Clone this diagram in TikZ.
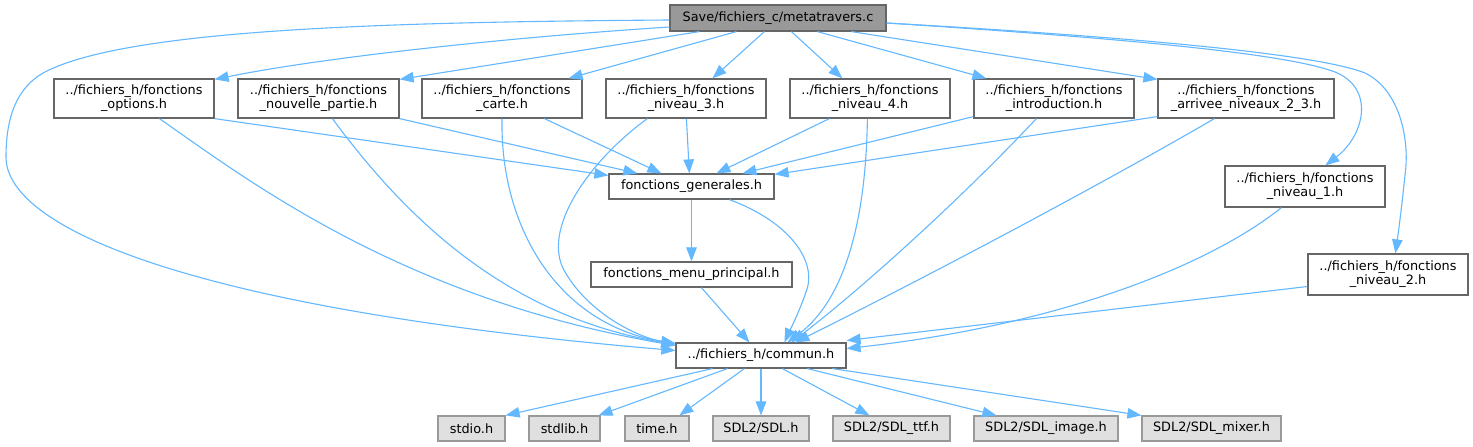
\documentclass[tikz,border=0pt]{standalone}
\usepackage{fontspec}
\setmainfont{DejaVu Sans}
\usetikzlibrary{arrows.meta,calc}
\definecolor{edgec}{HTML}{63B8FF}
\definecolor{bordc}{HTML}{666666}
\definecolor{bordl}{HTML}{999999}
\definecolor{fillmain}{HTML}{999999}
\definecolor{fillsys}{HTML}{E0E0E0}
\begin{document}
\begin{tikzpicture}[x=1pt,y=-1pt,
  font=\fontsize{12.85}{14}\selectfont,
  box/.style={draw=bordc, fill=white, line width=1.2pt, inner sep=0pt, align=center},
  mainbox/.style={box, fill=fillmain},
  sysbox/.style={box, draw=bordl, fill=fillsys},
  edge/.style={draw=edgec, line width=1.1pt, -{Triangle[length=14pt,width=10.5pt]}}]
\useasboundingbox (0,0) rectangle (1473,447);
\fill[white] (0,0) rectangle (1473,447);
% nodes
\node[mainbox, minimum width=216pt, minimum height=26pt] (main) at (778,18) {Save/fichiers\_c/metatravers.c};
\node[box, minimum width=160pt, minimum height=39pt] (opt) at (134,98.5) {../fichiers\_h/fonctions\\\_options.h};
\node[box, minimum width=161pt, minimum height=39pt] (nouv) at (318.5,98.5) {../fichiers\_h/fonctions\\\_nouvelle\_partie.h};
\node[box, minimum width=160pt, minimum height=39pt] (carte) at (502,98.5) {../fichiers\_h/fonctions\\\_carte.h};
\node[box, minimum width=160pt, minimum height=39pt] (n3) at (686,98.5) {../fichiers\_h/fonctions\\\_niveau\_3.h};
\node[box, minimum width=160pt, minimum height=39pt] (n4) at (870,98.5) {../fichiers\_h/fonctions\\\_niveau\_4.h};
\node[box, minimum width=160pt, minimum height=39pt] (intro) at (1054,98.5) {../fichiers\_h/fonctions\\\_introduction.h};
\node[box, minimum width=176pt, minimum height=39pt] (arr) at (1246,98.5) {../fichiers\_h/fonctions\\\_arrivee\_niveaux\_2\_3.h};
\node[box, minimum width=165pt, minimum height=25pt] (gen) at (691.5,186.5) {fonctions\_generales.h};
\node[box, minimum width=201pt, minimum height=25pt] (menu) at (691.5,274.5) {fonctions\_menu\_principal.h};
\node[box, minimum width=160pt, minimum height=41pt] (n1) at (1305,186.5) {../fichiers\_h/fonctions\\\_niveau\_1.h};
\node[box, minimum width=160pt, minimum height=41pt] (n2) at (1388,274.5) {../fichiers\_h/fonctions\\\_niveau\_2.h};
\node[box, minimum width=170pt, minimum height=25pt] (commun) at (761,355.5) {../fichiers\_h/commun.h};
\node[sysbox, minimum width=67pt, minimum height=25pt] (stdio) at (471.5,428.5) {stdio.h};
\node[sysbox, minimum width=71pt, minimum height=25pt] (stdlib) at (564.5,428.5) {stdlib.h};
\node[sysbox, minimum width=64pt, minimum height=25pt] (time) at (657,428.5) {time.h};
\node[sysbox, minimum width=96pt, minimum height=25pt] (sdl) at (761,428.5) {SDL2/SDL.h};
\node[sysbox, minimum width=117pt, minimum height=25pt] (ttf) at (891.5,428.5) {SDL2/SDL\_ttf.h};
\node[sysbox, minimum width=144pt, minimum height=25pt] (image) at (1046,428.5) {SDL2/SDL\_image.h};
\node[sysbox, minimum width=139pt, minimum height=25pt] (mixer) at (1211.5,428.5) {SDL2/SDL\_mixer.h};
% edges from main
\draw[edge] ($(main.west)+(0,2)$) .. controls (400,22) and (130,28) .. (45,72)
  .. controls (15,88) and (6,120) .. (6,157)
  .. controls (6,230) and (200,310) .. ($(commun.west)+(0,-5)$);
\draw[edge] ($(main.west)+(0,9)$) .. controls (500,38) and (320,58) .. ($(opt.north east)+(0,1)$);
\draw[edge] ($(main.south west)+(30,0)$) -- ($(nouv.north east)+(0,1)$);
\draw[edge] ($(main.south west)+(67,0)$) -- ($(carte.north east)+(-14,0)$);
\draw[edge] ($(main.south west)+(95,0)$) -- ($(n3.north west)+(107,0)$);
\draw[edge] ($(main.south west)+(122,0)$) -- ($(n4.north west)+(53,0)$);
\draw[edge] ($(main.south west)+(148,0)$) -- ($(intro.north west)+(13,0)$);
\draw[edge] ($(main.south west)+(182,0)$) -- ($(arr.north west)+(0,1)$);
\draw[edge] ($(main.east)+(0,5)$) .. controls (1150,40) and (1290,55) .. (1335,72)
  .. controls (1375,88) and (1365,135) .. ($(n1.north west)+(101,0)$);
\draw[edge] ($(main.east)+(0,5)$) .. controls (1150,38) and (1320,55) .. (1365,73)
  .. controls (1400,90) and (1410,140) .. (1405,175)
  .. controls (1402,205) and (1398,235) .. ($(n2.north west)+(88,0)$);
% into generales
\draw[edge] (opt.south east) -- ($(gen.north west)+(0,2)$);
\draw[edge] (nouv.south east) -- ($(gen.north west)+(29,0)$);
\draw[edge] ($(carte.south west)+(123,0)$) -- ($(gen.north west)+(53,0)$);
\draw[edge] ($(n3.south west)+(81,0)$) -- ($(gen.north west)+(81,0)$);
\draw[edge] ($(n4.south west)+(40,0)$) -- ($(gen.north west)+(108,0)$);
\draw[edge] ($(intro.south west)+(0,-2)$) -- ($(gen.north west)+(134,0)$);
\draw[edge] ($(arr.south west)+(0,-2)$) -- ($(gen.north east)+(0,1)$);
\draw[edge] (gen.south) -- (menu.north);
% into commun
\draw[edge] ($(opt.south west)+(106,0)$) .. controls (245,178) and (400,298) .. ($(commun.west)+(0,-10)$);
\draw[edge] ($(nouv.south west)+(95,0)$) .. controls (400,210) and (500,315) .. ($(commun.west)+(0,-11)$);
\draw[edge] (carte.south) .. controls (500,230) and (560,325) .. ($(commun.west)+(0,-12)$);
\draw[edge] ($(n3.south west)+(42,0)$) .. controls (590,160) and (540,230) .. (565,272)
  .. controls (590,315) and (640,338) .. ($(commun.north west)+(0,1)$);
\draw[edge] ($(gen.south west)+(121,0)$) .. controls (790,222) and (818,262) .. (806,292)
  .. controls (798,315) and (790,330) .. ($(commun.north west)+(109,0)$);
\draw[edge] ($(menu.south west)+(111,0)$) -- ($(commun.north west)+(74,0)$);
\draw[edge] ($(n4.south west)+(78,0)$) .. controls (866,220) and (845,300) .. ($(commun.north west)+(112,0)$);
\draw[edge] ($(intro.south west)+(63,0)$) .. controls (960,200) and (860,290) .. ($(commun.north west)+(116,0)$);
\draw[edge] ($(arr.south west)+(57,0)$) .. controls (1100,185) and (940,270) .. ($(commun.north west)+(120,0)$);
\draw[edge] ($(n1.south west)+(57,0)$) .. controls (1210,265) and (1060,325) .. ($(commun.east)+(0,-7)$);
\draw[edge] ($(n2.west)+(0,12)$) -- ($(commun.east)+(0,-15)$);
% from commun
\draw[edge] ($(commun.south west)+(37,0)$) -- (stdio.north east);
\draw[edge] ($(commun.south west)+(52,0)$) -- ($(stdlib.north east)+(-2,0)$);
\draw[edge] ($(commun.south west)+(69,0)$) -- ($(time.north west)+(55,0)$);
\draw[edge] (commun.south) -- (sdl.north);
\draw[edge] ($(commun.south west)+(107,0)$) -- ($(ttf.north west)+(37,0)$);
\draw[edge] ($(commun.south west)+(132,0)$) -- ($(image.north west)+(23,0)$);
\draw[edge] ($(commun.south west)+(157,0)$) -- (mixer.north west);
\end{tikzpicture}
\end{document}
